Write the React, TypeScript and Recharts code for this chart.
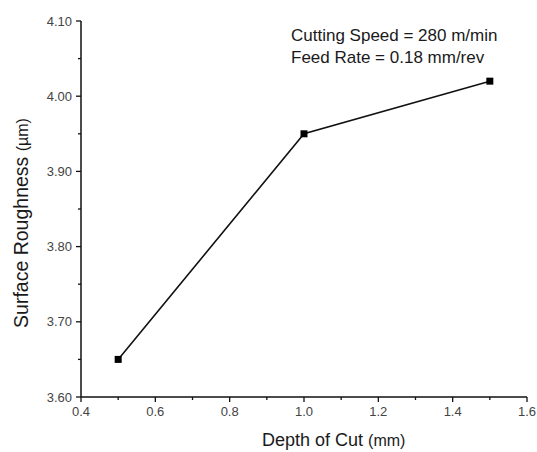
import React from 'react';
import { LineChart, Line, XAxis, YAxis, Label } from 'recharts';

const depthOfCut = [0.5, 1.0, 1.5];
const roughness = [3.65, 3.95, 4.02];
const xTicks = [0.4, 0.5, 0.6, 0.7, 0.8, 0.9, 1.0, 1.1, 1.2, 1.3, 1.4, 1.5, 1.6];
const xMajor = ['0.4', '0.6', '0.8', '1.0', '1.2', '1.4', '1.6'];
const yTicks = [3.6, 3.65, 3.7, 3.75, 3.8, 3.85, 3.9, 3.95, 4.0, 4.05, 4.1];
const yMajor = ['3.60', '3.70', '3.80', '3.90', '4.00', '4.10'];
const annotation = ['Cutting Speed = 280 m/min', 'Feed Rate = 0.18 mm/rev'];

const data = depthOfCut.map((x, i) => ({ x, y: roughness[i] }));

const FONT = '"Liberation Sans", Arial, Helvetica, sans-serif';

const XTick = (props: any) => {
  const { x, y, payload } = props;
  const label = Number(payload.value).toFixed(1);
  const major = xMajor.includes(label);
  return (
    <g>
      <line x1={x} y1={y} x2={x} y2={y + (major ? 5 : 3)} stroke="#111" strokeWidth={1.3} />
      {major && (
        <text x={x} y={y + 19} textAnchor="middle" fontSize={13} fill="#444" fontFamily={FONT}>
          {label}
        </text>
      )}
    </g>
  );
};

const YTick = (props: any) => {
  const { x, y, payload } = props;
  const label = Number(payload.value).toFixed(2);
  const major = yMajor.includes(label);
  return (
    <g>
      <line x1={x} y1={y} x2={x - (major ? 5 : 3)} y2={y} stroke="#111" strokeWidth={1.3} />
      {major && (
        <text x={x - 9} y={y + 4.5} textAnchor="end" fontSize={13} fill="#444" fontFamily={FONT}>
          {label}
        </text>
      )}
    </g>
  );
};

const SquareDot = (props: any) => {
  const { cx, cy } = props;
  if (cx == null || cy == null) return null;
  return <rect x={cx - 3.5} y={cy - 3.5} width={7} height={7} fill="#000" />;
};

const XLabel = (props: any) => {
  const vb = props.viewBox || {};
  const cx = vb.x + vb.width / 2;
  return (
    <text x={cx - 42} y={446} fontFamily={FONT} fill="#1a1a1a">
      <tspan fontSize={18}>Depth of Cut </tspan>
      <tspan fontSize={16}>(mm)</tspan>
    </text>
  );
};

const YLabel = (props: any) => {
  const vb = props.viewBox || {};
  const cy = vb.y + vb.height / 2;
  return (
    <text
      x={28}
      y={cy + 14}
      transform={`rotate(-90, 28, ${cy + 14})`}
      textAnchor="middle"
      fontFamily={FONT}
      fill="#1a1a1a"
    >
      <tspan fontSize={19.5}>Surface Roughness </tspan>
      <tspan fontSize={16}>(µm)</tspan>
    </text>
  );
};

export default function App() {
  return (
    <div style={{ position: 'absolute', left: 0, top: 0, width: 537, height: 452, background: '#fff' }}>
      <LineChart width={537} height={452} data={data} margin={{ top: 21, right: 10, bottom: 25, left: 0 }}>
        <XAxis
          dataKey="x"
          type="number"
          domain={[0.4, 1.6]}
          ticks={xTicks}
          interval={0}
          tickSize={0}
          tickMargin={0}
          tickLine={false}
          axisLine={{ stroke: '#111', strokeWidth: 1.5 }}
          tick={<XTick />}
          height={30}
        >
          <Label content={<XLabel />} />
        </XAxis>
        <YAxis
          type="number"
          domain={[3.6, 4.1]}
          ticks={yTicks}
          interval={0}
          tickSize={0}
          tickMargin={0}
          tickLine={false}
          axisLine={{ stroke: '#111', strokeWidth: 1.5 }}
          tick={<YTick />}
          width={81}
        >
          <Label content={<YLabel />} />
        </YAxis>
        <Line
          type="linear"
          dataKey="y"
          stroke="#111"
          strokeWidth={1.6}
          dot={<SquareDot />}
          activeDot={false}
          isAnimationActive={false}
        />
      </LineChart>
      <div
        style={{
          position: 'absolute',
          left: 291,
          top: 25,
          fontFamily: FONT,
          fontSize: 17,
          lineHeight: '22px',
          color: '#1a1a1a',
          whiteSpace: 'nowrap',
        }}
      >
        <div>{annotation[0]}</div>
        <div>{annotation[1]}</div>
      </div>
    </div>
  );
}
